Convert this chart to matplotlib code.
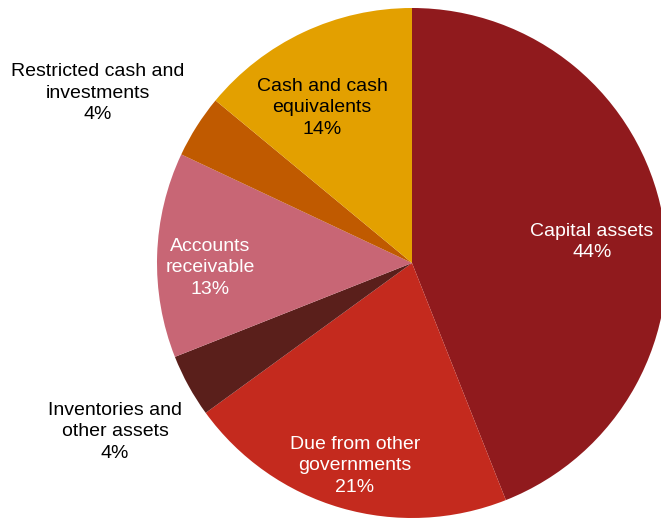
import matplotlib.pyplot as plt

plt.rcParams['font.family'] = ['Liberation Sans', 'DejaVu Sans']

# Asset composition, clockwise from 12 o'clock
categories = ['Capital assets', 'Due from other\ngovernments', 'Inventories and\nother assets',
              'Accounts\nreceivable', 'Restricted cash and\ninvestments', 'Cash and cash\nequivalents']
shares = [44, 21, 4, 13, 4, 14]
colors = ['#901A1D', '#C42A1E', '#5A1F1B', '#C86675', '#C05A00', '#E3A000']

# label anchor (pixel coords, y up) and text colour for each slice
label_pos = [(592, 278), (355, 54), (115, 88), (210, 252), (98, 427), (322, 412)]
label_col = ['white', 'white', 'black', 'white', 'black', 'black']

fig = plt.figure(figsize=(6.61, 5.2), dpi=100)
ax = fig.add_axes([0, 0, 1, 1])

ax.pie(shares, colors=colors, startangle=90, counterclock=False,
       center=(412, 257), radius=255, frame=True,
       wedgeprops=dict(linewidth=0))
ax.set_xlim(0, 661)
ax.set_ylim(0, 520)
ax.axis('off')

for name, val, (x, y), c in zip(categories, shares, label_pos, label_col):
    ax.text(x, y, f"{name}\n{val}%", ha='center', va='center', color=c,
            fontsize=14, linespacing=1.35)

fig.savefig('out.png', dpi=100)
